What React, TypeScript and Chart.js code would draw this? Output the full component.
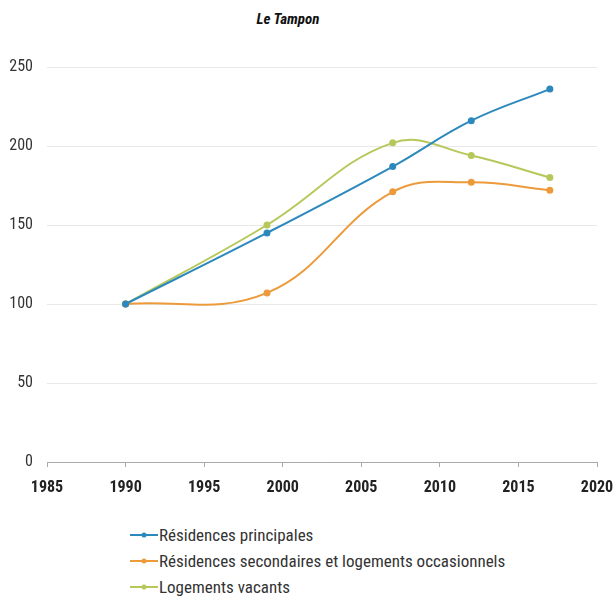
import React, { useEffect, useRef } from 'react';
import { Chart, registerables } from 'chart.js';

Chart.register(...registerables);

const years = [1990, 1999, 2007, 2012, 2017];
const principales = [100, 145, 187, 216, 236];
const secondaires = [100, 107, 171, 177, 172];
const vacants = [100, 150, 202, 194, 180];
const seriesLabels = [
    'Résidences principales',
    'Résidences secondaires et logements occasionnels',
    'Logements vacants',
];
const seriesColors = ['#2c89bd', '#ec9a3a', '#b6c85a'];
const xTicks = { min: 1985, max: 2020, step: 5 };
const yTicks = { min: 0, max: 250, step: 50 };

const FONT = "'Roboto Condensed', 'Liberation Sans Narrow', 'DejaVu Sans Condensed', sans-serif";

const App: React.FC = () => {
    const chartRef = useRef<HTMLCanvasElement>(null);
    const chartInstanceRef = useRef<Chart | null>(null);

    useEffect(() => {
        document.body.style.margin = '0';
        if (!chartRef.current) return;
        const ctx = chartRef.current.getContext('2d');
        if (!ctx) return;
        if (chartInstanceRef.current) chartInstanceRef.current.destroy();

        const values = [principales, secondaires, vacants];

        chartInstanceRef.current = new Chart(ctx, {
            type: 'line',
            data: {
                datasets: values.map((vals, i) => ({
                    label: seriesLabels[i],
                    data: vals.map((v, j) => ({ x: years[j], y: v })),
                    borderColor: seriesColors[i],
                    backgroundColor: seriesColors[i],
                    borderWidth: 2,
                    pointRadius: 2.5,
                    pointHoverRadius: 3,
                    tension: 0.4,
                    fill: false,
                })),
            },
            options: {
                animation: false,
                responsive: true,
                maintainAspectRatio: false,
                layout: { padding: { top: 67, right: 17, left: 0, bottom: 0 } },
                scales: {
                    x: {
                        type: 'linear',
                        min: xTicks.min,
                        max: xTicks.max,
                        afterFit: (scale) => {
                            scale.height = 48;
                            scale.paddingLeft = 0;
                            scale.paddingRight = 0;
                        },
                        grid: {
                            drawOnChartArea: false,
                            drawTicks: true,
                            tickLength: 5,
                            tickColor: '#aaaaaa',
                        },
                        border: { color: '#aaaaaa', width: 1 },
                        ticks: {
                            stepSize: xTicks.step,
                            padding: 11,
                            color: '#222222',
                            font: { family: FONT, size: 16, weight: 'bold' },
                            callback: (value) => String(value),
                            maxRotation: 0,
                        },
                    },
                    y: {
                        min: yTicks.min,
                        max: yTicks.max,
                        afterFit: (scale) => { scale.width = 47; },
                        grid: { color: '#e8e8e8', drawTicks: false },
                        border: { display: false },
                        ticks: {
                            stepSize: yTicks.step,
                            padding: 14,
                            color: '#333333',
                            font: { family: FONT, size: 16 },
                        },
                    },
                },
                plugins: {
                    legend: { display: false },
                    tooltip: { enabled: false },
                },
            },
        });

        return () => {
            if (chartInstanceRef.current) {
                chartInstanceRef.current.destroy();
                chartInstanceRef.current = null;
            }
        };
    }, []);

    return (
        <div style={{ position: 'relative', width: 614, height: 599, background: '#fff', fontFamily: FONT }}>
            <div style={{
                position: 'absolute', left: 0, width: 576, top: 10, textAlign: 'center',
                fontSize: 15, fontWeight: 'bold', fontStyle: 'italic', color: '#111',
            }}>
                Le Tampon
            </div>
            <div style={{ position: 'absolute', left: 0, top: 0, width: 614, height: 510 }}>
                <canvas ref={chartRef}></canvas>
            </div>
            <div style={{ position: 'absolute', left: 130, top: 522 }}>
                {seriesLabels.map((label, i) => (
                    <div key={label} style={{ display: 'flex', alignItems: 'center', height: 26, fontSize: 17, color: '#333' }}>
                        <svg width={28} height={10} style={{ marginRight: 1 }}>
                            <line x1={0} y1={5} x2={28} y2={5} stroke={seriesColors[i]} strokeWidth={2} />
                            <circle cx={14} cy={5} r={2.5} fill={seriesColors[i]} />
                        </svg>
                        <span>{label}</span>
                    </div>
                ))}
            </div>
        </div>
    );
};

export default App;
